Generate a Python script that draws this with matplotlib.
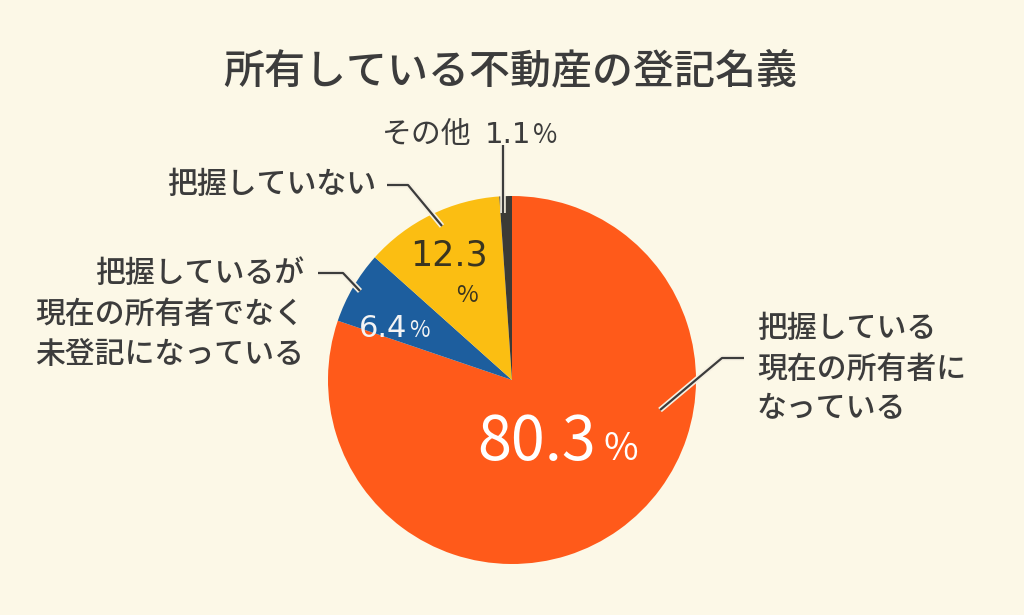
import matplotlib
matplotlib.use("Agg")
import matplotlib.pyplot as plt
import matplotlib.patheffects as pe

plt.rcParams['font.family'] = ['Noto Sans CJK JP', 'DejaVu Sans']

# ---- data ----
title = "所有している不動産の登記名義"
categories = ["把握している\n現在の所有者に\nなっている",
              "把握しているが\n現在の所有者でなく\n未登記になっている",
              "把握していない",
              "その他"]
values = [80.3, 6.4, 12.3, 1.1]
colors = ["#FF5A1A", "#1D5E9E", "#FBBE12", "#3B3A36"]

BG = "#FCF8E7"
TXT = "#3C3C3C"
W, H = 1024, 615
NUMF = ['DejaVu Sans']

fig = plt.figure(figsize=(W / 100, H / 100), dpi=100, facecolor=BG)
ax = fig.add_axes([0, 0, 1, 1])
ax.set_facecolor(BG)

def Y(py):
    return H - py

cx, cy, R = 512, 380, 184
ax.pie(values, colors=colors, startangle=90, counterclock=False,
       center=(cx, Y(cy)), radius=R, frame=True,
       wedgeprops=dict(linewidth=0, edgecolor='none'))
ax.set_xlim(0, W)
ax.set_ylim(0, H)
ax.set_aspect('equal')
ax.axis('off')

# title
ax.text(510, Y(72), title, ha='center', va='center', fontsize=29.5, color=TXT,
        fontweight='medium')

renderer = fig.canvas.get_renderer()

def chain(x, y, pieces):
    """Draw text pieces side by side starting at x (pixel), baseline y."""
    xs = x
    for s, size, col, gap, fam in pieces:
        kw = {}
        if fam is not None:
            kw['family'] = fam
        t = ax.text(xs, Y(y), s, fontsize=size, color=col, ha='left',
                    va='baseline', **kw)
        bb = t.get_window_extent(renderer)
        xs = xs + bb.width + gap
    return xs

lab_r, lab_l2, lab_l1, lab_o = categories
v_r, v_l2, v_l1, v_o = values

LS = 21.5
# right label
ax.text(757, Y(369), lab_r, ha='left', va='center', fontsize=LS, color=TXT,
        linespacing=1.38, fontweight='medium')
# left multi-line
ax.text(304, Y(314), lab_l2, ha='right', va='center', fontsize=LS, color=TXT,
        linespacing=1.38, fontweight='medium')
# 把握していない
ax.text(376, Y(185), lab_l1, ha='right', va='center', fontsize=LS, color=TXT,
        fontweight='medium')

# その他 1.1%
chain(382, 143, [(lab_o, LS, TXT, 13, None), (f"{v_o}", 21, TXT, 2, NUMF),
                 ("%", 19, TXT, 0, None)])

# in-slice values
chain(477, 460, [(f"{v_r}", 44, "white", 8, None), ("%", 27, "white", 0, None)])
chain(359, 337, [(f"{v_l2}", 22, "#F4F4F4", 2, NUMF), ("%", 16, "#F4F4F4", 0, None)])
ax.text(449, Y(256), f"{v_l1}", ha='center', va='center', fontsize=25,
        color="#3A3520", family=NUMF)
ax.text(467, Y(296), "%", ha='center', va='center', fontsize=17, color="#3A3520")

# leader lines
halo = [pe.Stroke(linewidth=4, foreground='#F6F1E2'), pe.Normal()]
def leader(pts):
    xs = [p[0] for p in pts]
    ys = [Y(p[1]) for p in pts]
    ax.plot(xs, ys, color=TXT, lw=1.6, solid_capstyle='butt', path_effects=halo)

leader([(660, 410), (722, 358), (744, 358)])
leader([(318, 273), (343, 273), (360, 291)])
leader([(387, 185), (408, 185), (442, 226)])
leader([(503, 145), (503, 213)])

fig.savefig("out.png", dpi=100, facecolor=BG)
